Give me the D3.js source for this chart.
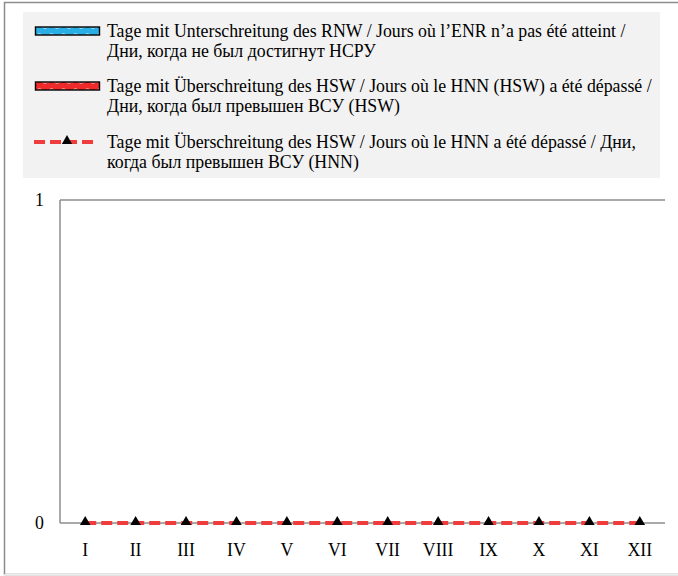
<!DOCTYPE html>
<html><head><meta charset="utf-8">
<script src="https://cdn.jsdelivr.net/npm/d3@7"></script>
<style>body{margin:0;background:#fff}svg{display:block}</style>
</head><body><svg id="c" width="678" height="576"></svg>
<script>
const months = ["I","II","III","IV","V","VI","VII","VIII","IX","X","XI","XII"];
const daysBelowRNW = [0,0,0,0,0,0,0,0,0,0,0,0];
const daysAboveHSW = [0,0,0,0,0,0,0,0,0,0,0,0];
const daysAboveHNN = [0,0,0,0,0,0,0,0,0,0,0,0];
const yTicks = [0,1];
const legendLabels = [
  ["Tage mit Unterschreitung des RNW / Jours où l’ENR n’a pas été atteint /","Дни, когда не был достигнут НСРУ"],
  ["Tage mit Überschreitung des HSW / Jours où le HNN (HSW) a été dépassé /","Дни, когда был превышен ВСУ (HSW)"],
  ["Tage mit Überschreitung des HSW / Jours où le HNN a été dépassé / Дни,","когда был превышен ВСУ (HNN)"]
];
const FONT = "Liberation Serif";
const FS = 17.8;

const svg = d3.select("#c");
const defs = svg.append("defs");
function pat(id, bg){
  const p = defs.append("pattern").attr("id",id).attr("patternUnits","userSpaceOnUse").attr("width",12).attr("height",8);
  p.append("rect").attr("width",12).attr("height",8).attr("fill",bg);
  p.append("path").attr("d","M0,5 Q3,1 6,4 T12,4").attr("fill","none").attr("stroke","#fff").attr("stroke-width",0.9).attr("opacity",0.75);
}
pat("pBlue","#29aee6");
pat("pRed","#ee2a2a");

// outer frame
svg.append("rect").attr("x",4.5).attr("y",2.5).attr("width",680).attr("height",572)
  .attr("fill","none").attr("stroke","#8c8c8c").attr("stroke-width",1.5);
svg.append("line").attr("x1",4).attr("x2",678).attr("y1",574.5).attr("y2",574.5).attr("stroke","#ececec");

// legend
svg.append("rect").attr("x",23).attr("y",12).attr("width",637).attr("height",166).attr("fill","#f2f2f2");
const ly = [31, 86, 142];
legendLabels.forEach((lines,i)=>{
  const g = svg.append("g").attr("transform",`translate(0,${ly[i]})`);
  if(i<2){
    g.append("rect").attr("x",35.5).attr("y",-4).attr("width",64).attr("height",8)
      .attr("fill",i===0?"url(#pBlue)":"url(#pRed)").attr("stroke","#000").attr("stroke-width",1.4);
  } else {
    g.append("line").attr("x1",34).attr("x2",96).attr("y1",0).attr("y2",0)
      .attr("stroke","#f03c3c").attr("stroke-width",4).attr("stroke-dasharray","11,5");
    g.append("path").attr("d",d3.symbol(d3.symbolTriangle,45)()).attr("transform","translate(67,-1)").attr("fill","#000");
  }
  lines.forEach((t,j)=>{
    g.append("text").attr("x",107).attr("y",5.5+j*20.3).attr("font-size",FS)
      .attr("font-family",FONT).attr("fill","#000").text(t);
  });
});

// plot
const x = d3.scaleBand().domain(months).range([60,665]);
const y = d3.scaleLinear().domain([0,1]).range([523,200]);

const grid = svg.append("g");
grid.append("line").attr("x1",60).attr("x2",665).attr("y1",y(1)).attr("y2",y(1)).attr("stroke","#8c8c8c").attr("stroke-width",1.5);
grid.append("line").attr("x1",60).attr("x2",60).attr("y1",y(1)).attr("y2",y(0)).attr("stroke","#8c8c8c").attr("stroke-width",1.5);
grid.append("line").attr("x1",60).attr("x2",665).attr("y1",y(0)).attr("y2",y(0)).attr("stroke","#8c8c8c").attr("stroke-width",1.5);

yTicks.forEach(t=>{
  svg.append("text").attr("x",44).attr("y",y(t)+5.5).attr("text-anchor","end").attr("font-size",FS)
    .attr("font-family",FONT).text(t);
});
months.forEach(m=>{
  svg.append("text").attr("x",x(m)+x.bandwidth()/2).attr("y",556).attr("text-anchor","middle").attr("font-size",FS)
    .attr("font-family",FONT).text(m);
});

// bars (zero height)
const bw = x.bandwidth()*0.3;
svg.append("g").selectAll("rect.b").data(daysBelowRNW).join("rect")
  .attr("x",(d,i)=>x(months[i])+x.bandwidth()/2-bw).attr("width",bw)
  .attr("y",d=>y(d)).attr("height",d=>y(0)-y(d)).attr("fill","url(#pBlue)");
svg.append("g").selectAll("rect.r").data(daysAboveHSW).join("rect")
  .attr("x",(d,i)=>x(months[i])+x.bandwidth()/2).attr("width",bw)
  .attr("y",d=>y(d)).attr("height",d=>y(0)-y(d)).attr("fill","url(#pRed)");

// line
const line = d3.line().x((d,i)=>x(months[i])+x.bandwidth()/2).y(d=>y(d));
svg.append("path").datum(daysAboveHNN).attr("d",line).attr("fill","none")
  .attr("stroke","#f03c3c").attr("stroke-width",4).attr("stroke-dasharray","11,5");
svg.append("g").selectAll("path").data(daysAboveHNN).join("path")
  .attr("d",d3.symbol(d3.symbolTriangle,48)())
  .attr("transform",(d,i)=>`translate(${x(months[i])+x.bandwidth()/2},${y(d)-1})`).attr("fill","#000");
</script></body></html>
